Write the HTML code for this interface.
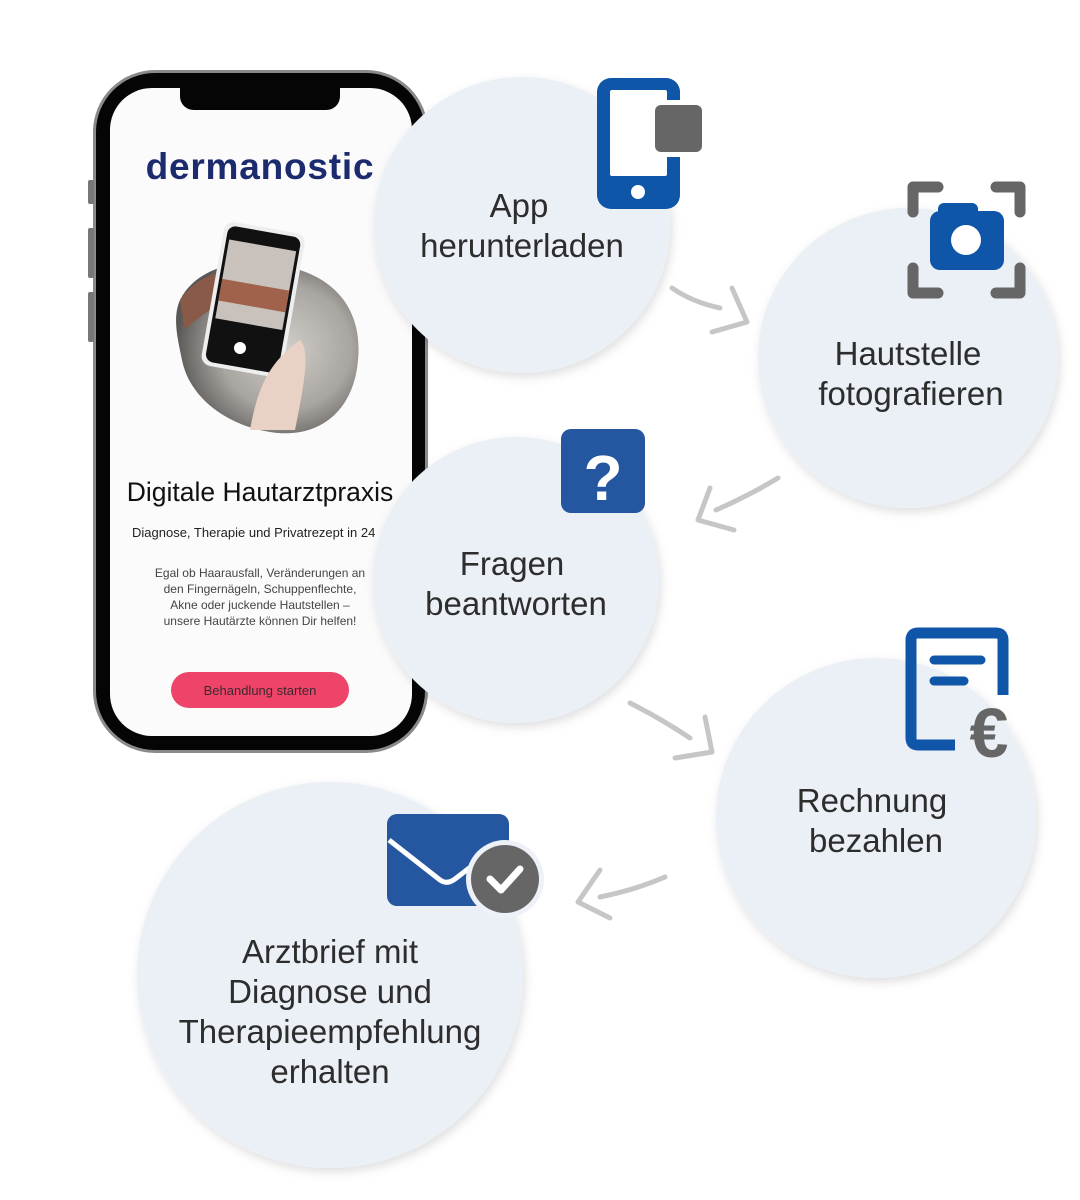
<!DOCTYPE html>
<html><head><meta charset="utf-8"><style>
html,body{margin:0;padding:0;background:#fff;}
svg{display:block;}
</style></head><body>
<svg width="1080" height="1200" viewBox="0 0 1080 1200" xmlns="http://www.w3.org/2000/svg" font-family="Liberation Sans, DejaVu Sans, sans-serif">
<defs>
<filter id="sh" x="-20%" y="-20%" width="140%" height="140%"><feDropShadow dx="2" dy="4" stdDeviation="5" flood-color="#000" flood-opacity="0.13"/></filter>
<radialGradient id="blob" cx="0.6" cy="0.5" r="0.6"><stop offset="0" stop-color="#d0ccc8"/><stop offset="0.6" stop-color="#a9a5a1"/><stop offset="1" stop-color="#5a5856"/></radialGradient>
<clipPath id="scr"><rect x="110" y="88" width="302" height="648" rx="42"/></clipPath>
</defs>
<!-- phone -->
<rect x="93" y="70" width="335" height="683" rx="62" fill="#8a8a8a"/>
<rect x="96" y="73" width="329" height="677" rx="59" fill="#050505"/>
<rect x="88" y="180" width="6" height="24" rx="2" fill="#777"/>
<rect x="88" y="228" width="6" height="50" rx="2" fill="#777"/>
<rect x="88" y="292" width="6" height="50" rx="2" fill="#777"/>
<g clip-path="url(#scr)">
<rect x="110" y="88" width="302" height="648" fill="#fbfbfb"/>
<path d="M180 300 C200 260 260 255 300 270 C345 285 362 320 358 360 C354 410 320 440 270 432 C230 426 190 400 182 360 C178 340 172 318 180 300Z" fill="url(#blob)"/>
<path d="M180 300 C200 270 240 262 290 275 L290 300 C250 290 215 300 185 330Z" fill="#8a5a48"/>
<g transform="rotate(10 250 300)">
<rect x="212" y="226" width="82" height="146" rx="10" fill="#eee"/>
<rect x="216" y="230" width="74" height="138" rx="8" fill="#111"/>
<rect x="219" y="244" width="68" height="80" fill="#c9c2bc"/>
<rect x="219" y="284" width="68" height="22" fill="#a0624a"/>
</g>
<circle cx="240" cy="348" r="6" fill="#fff"/>
<path d="M250 430 C258 385 270 362 300 340 C310 350 305 380 295 430Z" fill="#e9d2c5"/>
</g>
<path d="M180 88 H340 V96 C340 104 334 110 326 110 H194 C186 110 180 104 180 96Z" fill="#050505"/>
<text x="260" y="179" text-anchor="middle" font-size="37" font-weight="bold" fill="#1b2b6e" letter-spacing="0.8">dermanostic</text>
<text x="260" y="501" text-anchor="middle" font-size="26.5" fill="#111">Digitale Hautarztpraxis</text>
<text x="132" y="537" font-size="13" fill="#222">Diagnose, Therapie und Privatrezept in 24</text>
<g font-size="12" fill="#444" text-anchor="middle">
<text x="260" y="577">Egal ob Haarausfall, Veränderungen an</text>
<text x="260" y="593">den Fingernägeln, Schuppenflechte,</text>
<text x="260" y="609">Akne oder juckende Hautstellen –</text>
<text x="260" y="625">unsere Hautärzte können Dir helfen!</text>
</g>
<rect x="171" y="672" width="178" height="36" rx="18" fill="#ef4469"/>
<text x="260" y="695" text-anchor="middle" font-size="13" fill="#3a2a2e">Behandlung starten</text>

<!-- circles -->
<g fill="#ebeff6" filter="url(#sh)">
<circle cx="522" cy="225" r="148"/>
<circle cx="908" cy="358" r="150"/>
<circle cx="516" cy="580" r="143"/>
<circle cx="876" cy="818" r="160"/>
<circle cx="330" cy="975" r="193"/>
</g>

<!-- arrows -->
<g fill="none" stroke="#c6c6c6" stroke-width="5" stroke-linecap="round" stroke-linejoin="round">
<path d="M672 288 Q692 302 720 308"/><path d="M732 288 L747 322 L712 332"/>
<path d="M778 478 Q750 495 716 510"/><path d="M710 488 L698 520 L734 530"/>
<path d="M630 703 Q660 718 690 738"/><path d="M705 717 L712 752 L675 758"/>
<path d="M665 877 Q635 890 600 897"/><path d="M600 870 L578 902 L610 918"/>
</g>

<!-- text -->
<g font-size="33" fill="#2d2d2d" text-anchor="middle">
<text x="519" y="217">App</text>
<text x="522" y="257">herunterladen</text>
<text x="908" y="365">Hautstelle</text>
<text x="911" y="405">fotografieren</text>
<text x="512" y="575">Fragen</text>
<text x="516" y="615">beantworten</text>
<text x="872" y="812">Rechnung</text>
<text x="876" y="852">bezahlen</text>
<text x="330" y="963">Arztbrief mit</text>
<text x="330" y="1003">Diagnose und</text>
<text x="330" y="1043">Therapieempfehlung</text>
<text x="330" y="1083">erhalten</text>
</g>

<!-- icon 1 -->
<rect x="597" y="78" width="83" height="131" rx="14" fill="#1056a8"/>
<rect x="610" y="90" width="57" height="86" rx="2" fill="#fff"/>
<rect x="650" y="100" width="57" height="57" rx="8" fill="#fff"/>
<rect x="655" y="105" width="47" height="47" rx="6" fill="#666"/>
<circle cx="638" cy="192" r="7" fill="#fff"/>
<!-- icon 2 -->
<g fill="none" stroke="#666" stroke-width="11" stroke-linecap="round" stroke-linejoin="round">
<path d="M913 212 V187 H938"/><path d="M996 187 H1020 V212"/>
<path d="M913 268 V293 H938"/><path d="M996 293 H1020 V268"/>
</g>
<rect x="930" y="211" width="74" height="59" rx="10" fill="#1056a8"/>
<rect x="938" y="203" width="40" height="16" rx="6" fill="#1056a8"/>
<circle cx="966" cy="240" r="15" fill="#fff"/>
<!-- icon 3 -->
<rect x="561" y="429" width="84" height="84" rx="10" fill="#2557a0"/>
<text x="603" y="500" text-anchor="middle" font-size="64" font-weight="bold" fill="#fff">?</text>
<!-- icon 4 -->
<path d="M955 745 H918 Q911 745 911 738 V640 Q911 633 918 633 H996 Q1003 633 1003 640 V695" fill="none" stroke="#1056a8" stroke-width="11"/>
<path d="M934 660 H981 M934 681 H964" stroke="#1056a8" stroke-width="9" stroke-linecap="round"/>
<text x="989" y="757" text-anchor="middle" font-size="70" font-weight="bold" fill="#666">€</text>
<!-- icon 5 -->
<rect x="387" y="814" width="122" height="92" rx="10" fill="#2557a0"/>
<path d="M389 840 L440 880 Q447 885 455 879 L490 852" fill="none" stroke="#fff" stroke-width="5"/>
<circle cx="505" cy="879" r="39" fill="#eef2f8"/>
<circle cx="505" cy="879" r="34" fill="#666"/>
<path d="M490 879 L501 890 L520 869" fill="none" stroke="#fff" stroke-width="7" stroke-linecap="round" stroke-linejoin="round"/>
</svg>
</body></html>
